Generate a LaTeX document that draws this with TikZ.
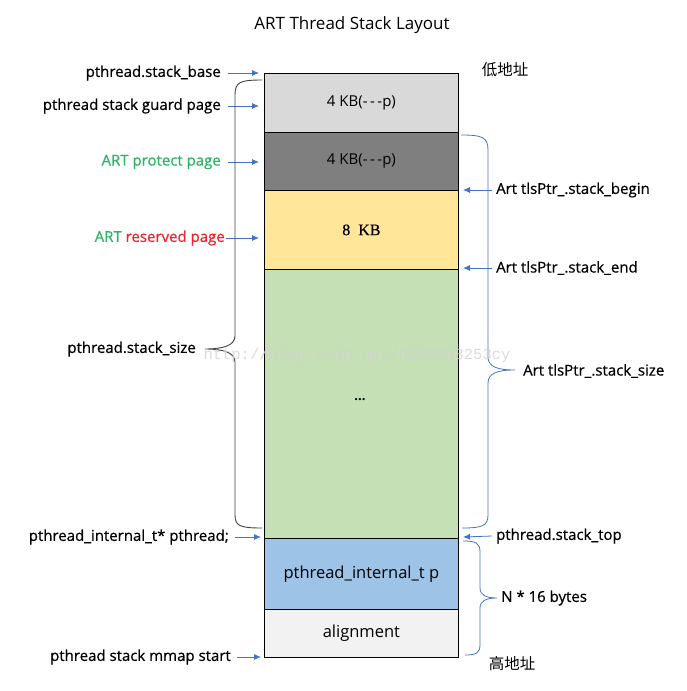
\documentclass[tikz,border=0pt]{standalone}
\usepackage{fontspec}
\setmainfont{Open Sans}
\newfontfamily\lblf[FakeBold=0.6]{Open Sans}
\newfontfamily\cjk{Noto Sans CJK SC}
\newfontfamily\wmfont{Liberation Mono}
\newfontfamily\serifk[FakeBold=0.6]{Liberation Serif}
\usetikzlibrary{arrows.meta}
\definecolor{rowA}{HTML}{D9D9D9}
\definecolor{rowB}{HTML}{7F7F7F}
\definecolor{rowC}{HTML}{FFE699}
\definecolor{rowD}{HTML}{C5E0B4}
\definecolor{rowE}{HTML}{9DC3E6}
\definecolor{rowF}{HTML}{F2F2F2}
\definecolor{arrblue}{HTML}{4472C4}
\definecolor{artgreen}{HTML}{2DB464}
\definecolor{artred}{HTML}{E8262C}
\begin{document}
\begin{tikzpicture}[x=1pt,y=-1pt,
  rowbox/.style={draw=black, line width=0.8pt, minimum width=194pt, inner sep=0pt, anchor=north west, font=\fontsize{15}{17}\selectfont},
  lbl/.style={font=\lblf\fontsize{15}{17}\selectfont, inner sep=0pt},
  arr/.style={draw=arrblue, line width=0.8pt, -{Latex[length=7pt,width=6pt]}},
  bracek/.style={draw=black!75, line width=0.9pt},
  braceb/.style={draw=arrblue, line width=0.8pt}]
\useasboundingbox (0,0) rectangle (687,691);
\node[font=\fontsize{17}{20}\selectfont] (title) at (352,25) {ART Thread Stack Layout};
% rows
\node[rowbox, fill=rowA, minimum height=59pt] (r1) at (264,73) {4 KB({-}\,{-}\,{-}p)};
\node[rowbox, fill=rowB, minimum height=58pt] (r2) at (264,132) {4 KB({-}\,{-}\,{-}p)};
\node[rowbox, fill=rowC, minimum height=79pt, font=\serifk\fontsize{16}{18}\selectfont] (r3) at (264,190) {8\ \ KB};
\node[rowbox, fill=rowD, minimum height=269pt] (r4) at (264,269) {};
\node[rowbox, fill=rowE, minimum height=71pt, font=\fontsize{16.5}{19}\selectfont] (r5) at (264,538) {pthread\_internal\_t p};
\node[rowbox, fill=rowF, minimum height=48pt, font=\fontsize{16.5}{19}\selectfont] (r6) at (264,609) {alignment};
\node[font=\bfseries\fontsize{13}{15}\selectfont] (dots) at (360,400) {...};
% left labels
\node[lbl, anchor=east] (lbase) at (221,73) {pthread.stack\_base};
\node[lbl, anchor=east] (lguard) at (221,106) {pthread stack guard page};
\node[lbl, anchor=east, text=artgreen] (lprot) at (221,162) {ART protect page};
\node[lbl, anchor=east] (lres) at (225,238) {\textcolor{artgreen}{ART} \textcolor{artred}{reserved page}};
\node[lbl, anchor=east] (lsize) at (196,349) {pthread.stack\_size};
\node[lbl, anchor=east] (lint) at (229,537) {pthread\_internal\_t* pthread;};
\node[lbl, anchor=east] (lmmap) at (231,657) {pthread stack mmap start};
\coordinate (pbase) at (259,73);
\coordinate (pguard) at (259,106);
\coordinate (pprot) at (259,162);
\coordinate (pres) at (259,238);
\coordinate (pint) at (261,537);
\coordinate (pmmap) at (261,657);
\draw[arr] ([xshift=7pt]lbase.east) -- (pbase);
\draw[arr] ([xshift=7pt]lguard.east) -- (pguard);
\draw[arr] ([xshift=7pt]lprot.east) -- (pprot);
\draw[arr] ([xshift=1pt]lres.east) -- (pres);
\draw[arr] ([xshift=6pt]lint.east) -- (pint);
\draw[arr] ([xshift=6pt]lmmap.east) -- (pmmap);
% right labels
\node[font=\cjk\fontsize{15.5}{18}\selectfont, inner sep=0pt] (low) at (505,70) {低地址};
\node[font=\cjk\fontsize{15.5}{18}\selectfont, inner sep=0pt] (high) at (512,664) {高地址};
\node[lbl, anchor=west] (rbegin) at (496,190) {Art tlsPtr\_.stack\_begin};
\node[lbl, anchor=west] (rend) at (496,268) {Art tlsPtr\_.stack\_end};
\node[lbl, anchor=west] (rsize) at (523,371) {Art tlsPtr\_.stack\_size};
\node[lbl, anchor=west] (rtop) at (496,536) {pthread.stack\_top};
\node[lbl, anchor=west] (rn) at (501,598) {N * 16 bytes};
\coordinate (qbegin) at (463,190);
\coordinate (qend) at (463,268);
\coordinate (qtop) at (463,537);
\draw[arr] ([xshift=-4pt]rbegin.west) -- (qbegin);
\draw[arr] ([xshift=-4pt]rend.west) -- (qend);
\draw[arr] ([xshift=-4pt]rtop.west) -- (qtop);
% braces
\draw[bracek] (262,80) .. controls (240,80) and (235,82) .. (235,95) -- (235,336)
  .. controls (235,346) and (222,349) .. (205,349)
  .. controls (222,349) and (235,352) .. (235,362) -- (235,515)
  .. controls (235,526) and (240,528) .. (262,528);
\draw[braceb] (461,135) .. controls (482,135) and (488,137) .. (488,150) -- (488,357)
  .. controls (488,367) and (498,370) .. (515,370)
  .. controls (498,370) and (488,373) .. (488,383) -- (488,515)
  .. controls (488,526) and (482,528) .. (462,528);
\draw[braceb] (463,541) .. controls (476,541) and (480,543) .. (480,552) -- (480,588)
  .. controls (480,595) and (486,598) .. (497,598)
  .. controls (486,598) and (480,601) .. (480,608) -- (480,645)
  .. controls (480,653) and (476,655) .. (465,655);
% watermark
\node[font=\wmfont\fontsize{15.5}{18}\selectfont, text=black!18, opacity=0.8, inner sep=0pt] (wm) at (357,355) {http://blog.csdn.net/h109083253cy};
\end{tikzpicture}
\end{document}
